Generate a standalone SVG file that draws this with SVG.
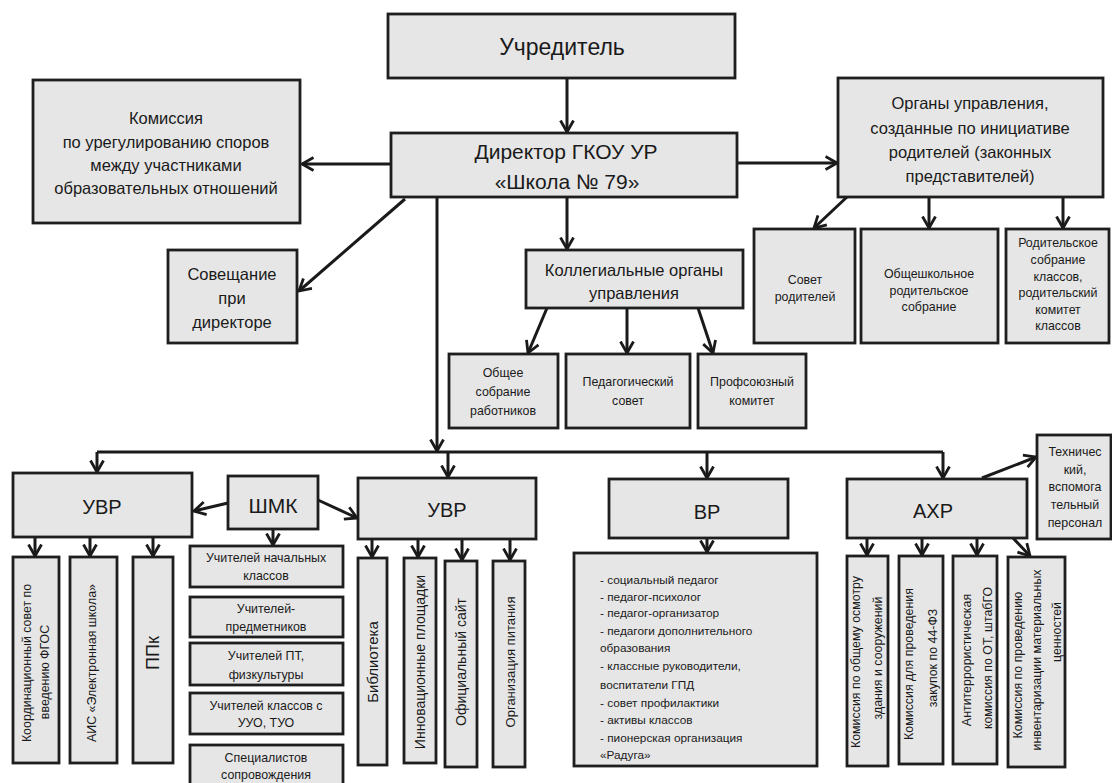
<svg xmlns="http://www.w3.org/2000/svg" width="1112" height="783" viewBox="0 0 1112 783">
<style>
.box{fill:#e6e6e6;stroke:#1e1e1e;stroke-width:2.8}
.t{font-family:"Liberation Sans",Arial,sans-serif;fill:#1a1a1a;text-anchor:middle}
.l{font-family:"Liberation Sans",Arial,sans-serif;fill:#1a1a1a;text-anchor:start;font-size:11.8px}
.s23{font-size:23px}.s21{font-size:21px}.s20{font-size:20px}.s17{font-size:16.5px}.s15{font-size:15px}.s14{font-size:14px}.s13{font-size:13px}.s12{font-size:12.4px}.s18{font-size:18px}
.c{stroke:#1a1a1a;stroke-width:3;fill:none;marker-end:url(#ah)}
.n{stroke:#1a1a1a;stroke-width:3;fill:none}
</style>
<defs>
<marker id="ah" viewBox="0 0 14 16" refX="12.5" refY="8" markerWidth="14" markerHeight="16" markerUnits="userSpaceOnUse" orient="auto">
<path d="M1,1.5 L12.5,8 L1,14.5" fill="none" stroke="#1a1a1a" stroke-width="2.8"/>
</marker>
</defs>
<rect width="1112" height="783" fill="#ffffff"/>

<g id="connectors">
<line class="c" x1="567" y1="78" x2="567" y2="132"/>
<line class="c" x1="390" y1="164" x2="302" y2="164"/>
<line class="c" x1="405" y1="199" x2="299" y2="291"/>
<line class="c" x1="738" y1="163" x2="837" y2="163"/>
<line class="c" x1="567" y1="197" x2="567" y2="249"/>
<line class="c" x1="547" y1="308" x2="528" y2="353"/>
<line class="c" x1="627" y1="308" x2="627" y2="353"/>
<line class="c" x1="698" y1="308" x2="713" y2="353"/>
<line class="c" x1="847" y1="197" x2="814" y2="228"/>
<line class="c" x1="929" y1="197" x2="929" y2="228"/>
<line class="c" x1="1063" y1="197" x2="1063" y2="228"/>
<line class="c" x1="437" y1="197" x2="437" y2="451"/>
<polyline class="n" points="97,452 943,452"/>
<line class="c" x1="97" y1="452" x2="97" y2="472"/>
<line class="c" x1="448" y1="452" x2="448" y2="477"/>
<line class="c" x1="707" y1="452" x2="707" y2="478"/>
<line class="c" x1="943" y1="452" x2="943" y2="478"/>
<line class="c" x1="228" y1="503" x2="194" y2="511"/>
<line class="c" x1="318" y1="500" x2="357" y2="518"/>
<line class="c" x1="273" y1="529" x2="273" y2="545"/>
<line class="c" x1="35" y1="537" x2="35" y2="556"/>
<line class="c" x1="90" y1="537" x2="90" y2="556"/>
<line class="c" x1="153" y1="537" x2="153" y2="556"/>
<line class="c" x1="372" y1="539" x2="372" y2="557"/>
<line class="c" x1="418" y1="539" x2="418" y2="557"/>
<line class="c" x1="462" y1="539" x2="462" y2="560"/>
<line class="c" x1="510" y1="539" x2="510" y2="560"/>
<line class="c" x1="707" y1="538" x2="707" y2="552"/>
<line class="c" x1="982" y1="478" x2="1036" y2="457"/>
<line class="c" x1="867" y1="538" x2="867" y2="555"/>
<line class="c" x1="922" y1="538" x2="922" y2="555"/>
<line class="c" x1="977" y1="538" x2="977" y2="555"/>
<line class="c" x1="1013" y1="538" x2="1030" y2="556"/>
</g>

<g id="uchreditel"><rect class="box" x="388" y="14" width="347" height="64"/><text class="t s23" x="562" y="55">Учредитель</text></g>

<g id="director"><rect class="box" x="391" y="133" width="346" height="64"/>
<text class="t s21" x="566" y="159">Директор ГКОУ УР</text>
<text class="t s21" x="567" y="189">«Школа № 79»</text></g>

<g id="komissiya"><rect class="box" x="33" y="80" width="267" height="143"/>
<text class="t s17" x="166" y="124">Комиссия</text>
<text class="t s17" x="166" y="148">по урегулированию споров</text>
<text class="t s17" x="166" y="171">между участниками</text>
<text class="t s17" x="166" y="194">образовательных отношений</text></g>

<g id="soveshanie"><rect class="box" x="168" y="250" width="129" height="93"/>
<text class="t s17" x="232" y="280">Совещание</text>
<text class="t s17" x="232" y="304">при</text>
<text class="t s17" x="232" y="328">директоре</text></g>

<g id="kollegialnye"><rect class="box" x="526" y="250" width="217" height="58"/>
<text class="t s17" x="634" y="276">Коллегиальные органы</text>
<text class="t s17" x="634" y="299">управления</text></g>

<g id="obshee"><rect class="box" x="449" y="354" width="109" height="74"/>
<text class="t s12" x="503" y="377">Общее</text>
<text class="t s12" x="503" y="396">собрание</text>
<text class="t s12" x="503" y="415">работников</text></g>

<g id="pedsovet"><rect class="box" x="566" y="354" width="124" height="74"/>
<text class="t s12" x="628" y="386">Педагогический</text>
<text class="t s12" x="628" y="405">совет</text></g>

<g id="profsoyuz"><rect class="box" x="698" y="354" width="108" height="74"/>
<text class="t s12" x="752" y="386">Профсоюзный</text>
<text class="t s12" x="752" y="405">комитет</text></g>

<g id="parents"><rect class="box" x="838" y="78" width="265" height="119"/>
<text class="t s17" x="970" y="109">Органы управления,</text>
<text class="t s17" x="970" y="134">созданные по инициативе</text>
<text class="t s17" x="970" y="158">родителей (законных</text>
<text class="t s17" x="970" y="182">представителей)</text></g>

<g id="sovet-roditeley"><rect class="box" x="754" y="229" width="101" height="114"/>
<text class="t s12" x="805" y="284">Совет</text>
<text class="t s12" x="805" y="301">родителей</text></g>

<g id="obshshkolnoe"><rect class="box" x="861" y="229" width="137" height="114"/>
<text class="t s12" x="929" y="278">Общешкольное</text>
<text class="t s12" x="929" y="295">родительское</text>
<text class="t s12" x="929" y="311">собрание</text></g>

<g id="roditelskoe"><rect class="box" x="1006" y="229" width="103" height="114"/>
<text class="t s12" x="1058" y="247">Родительское</text>
<text class="t s12" x="1058" y="264">собрание</text>
<text class="t s12" x="1058" y="281">классов,</text>
<text class="t s12" x="1058" y="297">родительский</text>
<text class="t s12" x="1058" y="314">комитет</text>
<text class="t s12" x="1058" y="330">классов</text></g>

<g id="uvr1"><rect class="box" x="13" y="473" width="179" height="64"/><text class="t s20" x="102" y="514">УВР</text></g>
<g id="shmk"><rect class="box" x="228" y="476" width="90" height="53"/><text class="t s21" x="273" y="513">ШМК</text></g>
<g id="uvr2"><rect class="box" x="358" y="478" width="178" height="61"/><text class="t s20" x="447" y="517">УВР</text></g>
<g id="vr"><rect class="box" x="609" y="479" width="179" height="59"/><text class="t s20" x="707" y="519">ВР</text></g>
<g id="ahr"><rect class="box" x="847" y="479" width="180" height="59"/><text class="t s20" x="933" y="518">АХР</text></g>

<g id="tehnicheskiy"><rect class="box" x="1037" y="435" width="74" height="104"/>
<text class="t s12" x="1075" y="456">Техничес</text>
<text class="t s12" x="1075" y="474">кий,</text>
<text class="t s12" x="1075" y="491">вспомога</text>
<text class="t s12" x="1075" y="509">тельный</text>
<text class="t s12" x="1075" y="527">персонал</text></g>

<g id="koord"><rect class="box" x="13" y="557" width="46" height="206"/>
<text class="t s12" transform="translate(31.3,663) rotate(-90)">Координационный совет по</text>
<text class="t s12" transform="translate(49.3,672) rotate(-90)">введению ФГОС</text></g>
<g id="ais"><rect class="box" x="70" y="557" width="47" height="206"/>
<text class="t s12" transform="translate(96.3,663) rotate(-90)">АИС «Электронная школа»</text></g>
<g id="ppk"><rect class="box" x="133" y="557" width="40" height="206"/>
<text class="t s18" transform="translate(159.3,653) rotate(-90)">ППк</text></g>

<g id="uch-nach"><rect class="box" x="190" y="546" width="153" height="41"/>
<text class="t s12" x="266" y="562">Учителей начальных</text>
<text class="t s12" x="266" y="580">классов</text></g>
<g id="uch-pred"><rect class="box" x="190" y="597" width="153" height="40"/>
<text class="t s12" x="266" y="613">Учителей-</text>
<text class="t s12" x="266" y="631">предметников</text></g>
<g id="uch-pt"><rect class="box" x="190" y="643" width="153" height="42"/>
<text class="t s12" x="266" y="660">Учителей ПТ,</text>
<text class="t s12" x="266" y="679">физкультуры</text></g>
<g id="uch-uuo"><rect class="box" x="190" y="693" width="153" height="41"/>
<text class="t s12" x="266" y="710">Учителей классов с</text>
<text class="t s12" x="266" y="727">УУО, ТУО</text></g>
<g id="spec"><rect class="box" x="190" y="745" width="153" height="50"/>
<text class="t s12" x="266" y="762">Специалистов</text>
<text class="t s12" x="266" y="779">сопровождения</text></g>

<g id="biblioteka"><rect class="box" x="358" y="558" width="29" height="207"/>
<text class="t s15" transform="translate(378.2,662) rotate(-90)">Библиотека</text></g>
<g id="innov"><rect class="box" x="404" y="558" width="32" height="205"/>
<text class="t s14" transform="translate(425,662) rotate(-90)">Инновационные  площадки</text></g>
<g id="ofic"><rect class="box" x="445" y="561" width="32" height="206"/>
<text class="t s14" transform="translate(466,662) rotate(-90)">Официальный сайт</text></g>
<g id="pitanie"><rect class="box" x="493" y="561" width="32" height="206"/>
<text class="t s13" transform="translate(514.5,662) rotate(-90)">Организация питания</text></g>

<g id="vr-list"><rect class="box" x="574" y="553" width="243" height="213"/>
<text class="l" x="600" y="584">- социальный педагог</text>
<text class="l" x="600" y="601">- педагог-психолог</text>
<text class="l" x="600" y="617">- педагог-организатор</text>
<text class="l" x="600" y="635">- педагоги дополнительного</text>
<text class="l" x="600" y="652">образования</text>
<text class="l" x="600" y="670">- классные руководители,</text>
<text class="l" x="600" y="689">воспитатели ГПД</text>
<text class="l" x="600" y="707">- совет профилактики</text>
<text class="l" x="600" y="724">- активы классов</text>
<text class="l" x="600" y="742">- пионерская организация</text>
<text class="l" x="600" y="759">«Радуга»</text></g>

<g id="ahr-osmotr"><rect class="box" x="847" y="556" width="41" height="210"/>
<text class="t s12" transform="translate(860.3,662) rotate(-90)">Комиссия по общему осмотру</text>
<text class="t s12" transform="translate(882.3,658) rotate(-90)">здания и сооружений</text></g>
<g id="ahr-zakupki"><rect class="box" x="899" y="556" width="44" height="208"/>
<text class="t s12" transform="translate(913.3,664) rotate(-90)">Комиссия для проведения</text>
<text class="t s12" transform="translate(937.3,658) rotate(-90)">закупок по 44-ФЗ</text></g>
<g id="ahr-antiterror"><rect class="box" x="953" y="556" width="44" height="208"/>
<text class="t s12" transform="translate(971.3,660) rotate(-90)">Антитеррористическая</text>
<text class="t s12" transform="translate(992.3,658) rotate(-90)">комиссия по ОТ, штабГО</text></g>
<g id="ahr-inv"><rect class="box" x="1008" y="557" width="57" height="210"/>
<text class="t s12" transform="translate(1022.3,665) rotate(-90)">Комиссия по проведению</text>
<text class="t s12" transform="translate(1041.3,660) rotate(-90)">инвентаризации материальных</text>
<text class="t s12" transform="translate(1061.3,632) rotate(-90)">ценностей</text></g>
</svg>
